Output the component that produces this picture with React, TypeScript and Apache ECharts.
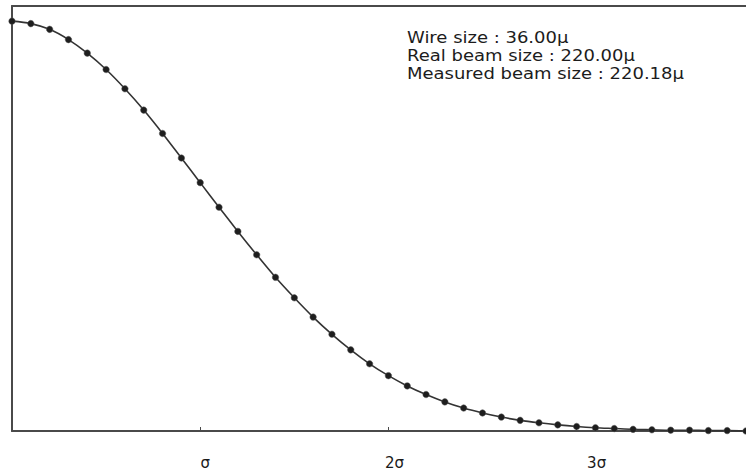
import React, { useEffect, useRef } from "react";
import * as echarts from "echarts";

// Positions along the x axis, in units of sigma
const xSigma: number[] = [
  0.0, 0.1, 0.2, 0.3, 0.4, 0.5, 0.6, 0.7, 0.8, 0.9,
  1.0, 1.1, 1.2, 1.3, 1.4, 1.5, 1.6, 1.7, 1.8, 1.9,
  2.0, 2.1, 2.2, 2.3, 2.4, 2.5, 2.6, 2.7, 2.8, 2.9,
  3.0, 3.1, 3.2, 3.3, 3.4, 3.5, 3.6, 3.7, 3.8, 3.9,
];

// Measured (normalised) signal
const measured: number[] = [
  1.0, 0.994, 0.98, 0.955, 0.922, 0.882, 0.835, 0.783, 0.726, 0.666,
  0.606, 0.546, 0.487, 0.43, 0.375, 0.325, 0.278, 0.236, 0.198, 0.164,
  0.135, 0.11, 0.089, 0.071, 0.056, 0.044, 0.034, 0.026, 0.02, 0.015,
  0.011, 0.008, 0.006, 0.004, 0.003, 0.002, 0.002, 0.001, 0.001, 0.0,
];

const tickLabels: Record<number, string> = { 0: "", 1: "σ", 2: "2σ", 3: "3σ" };
const tickRich: Record<number, string> = { 1: "a", 2: "b", 3: "c" };

const infoLines: string[] = [
  "Wire size : 36.00µ",
  "Real beam size : 220.00µ",
  "Measured beam size : 220.18µ",
];

export default function App() {
  const ref = useRef<HTMLDivElement>(null);

  useEffect(() => {
    if (!ref.current) return;
    const chart = echarts.init(ref.current, undefined, { renderer: "svg" });
    const data = xSigma.map((x, i) => [x, measured[i]]);
    const axisColor = "#4a4a4a";
    const textFont = "'DejaVu Sans', 'Liberation Sans', sans-serif";

    chart.setOption({
      animation: false,
      backgroundColor: "#ffffff",
      grid: { left: 12, right: 0, top: 6, bottom: 40, containLabel: false },
      xAxis: [
        {
          type: "value",
          min: 0,
          max: 3.9,
          interval: 1,
          position: "bottom",
          axisLine: { show: true, lineStyle: { color: axisColor, width: 2 } },
          axisTick: { show: true, inside: true, length: 4, lineStyle: { color: axisColor, width: 1 } },
          splitLine: { show: false },
          axisLabel: {
            show: true,
            margin: 24,
            color: "#1a1a1a",
            fontSize: 15,
            fontFamily: textFont,
            showMaxLabel: false,
            formatter: (v: number) => {
              const r = Math.round(v);
              const t = tickLabels[r] ?? "";
              if (!t) return "";
              return "{" + tickRich[r] + "|" + t + "}";
            },
            rich: {
              a: { fontSize: 15, color: "#1a1a1a", fontFamily: textFont, padding: [0, 0, 0, 10] },
              b: { fontSize: 15, color: "#1a1a1a", fontFamily: textFont, padding: [0, 0, 0, 12] },
              c: { fontSize: 15, color: "#1a1a1a", fontFamily: textFont, padding: [0, 0, 0, 40] },
            },
          },
        },
        {
          type: "value",
          min: 0,
          max: 3.9,
          position: "top",
          axisLine: { show: true, lineStyle: { color: axisColor, width: 2 } },
          axisTick: { show: false },
          axisLabel: { show: false },
          splitLine: { show: false },
        },
      ],
      yAxis: {
        type: "value",
        min: 0,
        max: 1.037,
        axisLine: { show: true, lineStyle: { color: axisColor, width: 2 } },
        axisTick: { show: false },
        axisLabel: { show: false },
        splitLine: { show: false },
      },
      series: [
        {
          type: "line",
          xAxisIndex: 0,
          data,
          smooth: 0.3,
          symbol: "circle",
          symbolSize: 6.5,
          showSymbol: true,
          lineStyle: { color: "#333333", width: 1.6 },
          itemStyle: { color: "#1e1e1e", borderColor: "#555", borderWidth: 0.5 },
          clip: false,
        },
      ],
      graphic: infoLines.map((line, i) => ({
        type: "text",
        x: 407,
        y: 38 + i * 18,
        scaleX: 1.2,
        scaleY: 1,
        style: {
          text: line,
          fill: "#1c1c1c",
          font: "15px " + textFont,
          textAlign: "left",
          textVerticalAlign: "middle",
        },
      })),
    });

    return () => chart.dispose();
  }, []);

  return (
    <div
      ref={ref}
      style={{ position: "absolute", left: 0, top: 0, width: 746, height: 471 }}
    />
  );
}
